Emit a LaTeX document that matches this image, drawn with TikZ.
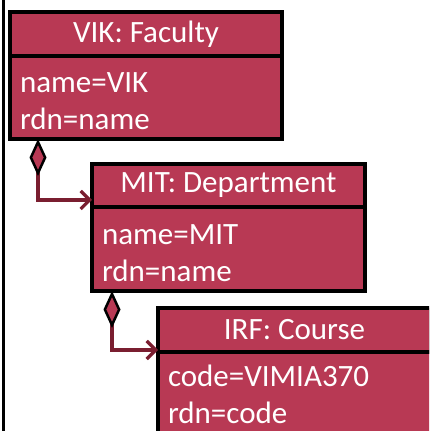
\documentclass[tikz,border=0pt]{standalone}
\usepackage{fontspec}
\setmainfont{Carlito}
\usepackage{xcolor}
\usepackage{tikz}
\usetikzlibrary{
    calc,
    arrows.meta,
    positioning
}
\definecolor{objred}{RGB}{184,57,84}
\definecolor{linkred}{RGB}{122,30,48}

\begin{document}
\begin{tikzpicture}[
            x=1pt, y=1pt,
            obj title/.style={draw=black, line width=3.5pt, fill=objred, text=white, outer sep=0pt,
                minimum width=#1, minimum height=44pt, inner sep=0pt, font=\fontsize{31}{37}\selectfont},
            obj body/.style={draw=black, line width=3.5pt, fill=objred, text=white, outer sep=0pt,
                minimum width=#1, text width=#1-20pt, minimum height=84pt, inner xsep=10pt, align=left,
                font=\fontsize{31}{37}\selectfont, execute at begin node={\rule{0pt}{28pt}}},
            comp/.style={linkred, line width=3.2pt,
                {Diamond[length=37pt, width=17pt, fill=objred, color=black, line width=2.5pt]}-{Straight Barb[length=9pt, width=18pt, line width=3.2pt]}}
        ]
        \useasboundingbox (0,0) rectangle (429,431);
        \clip (0,0) rectangle (429,431);
        \draw[line width=3pt] (3,431) -- (3,0);
        % objects
        \node[obj title=272pt] (vik) at (146,397) {VIK: Faculty};
        \node[obj body=272pt, below=0pt of vik, minimum height=83pt] (vikbody) {name=VIK\\rdn=name};
        \node[obj title=273pt, minimum height=43pt] (mit) at (228.5,245.5) {MIT: Department};
        \node[obj body=273pt, below=0pt of mit] (mitbody) {name=MIT\\rdn=name};
        \node[obj title=273pt] (irf) at (294.5,101) {IRF: Course};
        \node[obj body=273pt, below=0pt of irf, minimum height=79pt, draw=none] (irfbody) {code=VIMIA370\\rdn=code};
        \draw[line width=3.5pt] (irf.south east) -- (irf.south west) -- (irfbody.south west);
        % compositions
        \draw[comp] ([xshift=28pt]vikbody.south west) |- ([yshift=7pt]mit.south west);
        \draw[comp] ([xshift=20pt]mitbody.south west) |- ([yshift=2pt]irf.south west);
    \end{tikzpicture}
\end{document}
